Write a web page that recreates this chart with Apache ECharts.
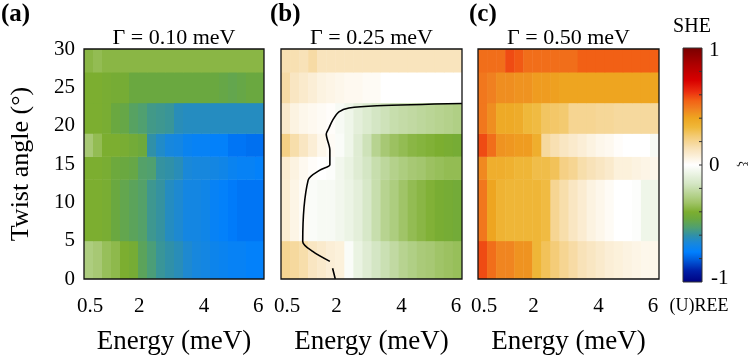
<!DOCTYPE html>
<html>
<head>
<meta charset="utf-8">
<script src="https://cdn.jsdelivr.net/npm/echarts@6/dist/echarts.min.js"></script>
<style>
  html, body { margin: 0; padding: 0; background: #fff; }
  #chart { width: 756px; height: 364px; }
</style>
</head>
<body>
<div id="chart"></div>
<script>
// energy (meV) at the centre of each column, twist-angle row edges (deg)
const ENERGY = [0.45, 0.73, 1.0, 1.28, 1.56, 1.83, 2.1, 2.38, 2.66, 2.94, 3.22, 3.5, 3.77, 4.05, 4.4, 4.72, 5.05, 5.4, 5.72, 6.05];
const ENERGY_TICKS = [0.5, 2, 4, 6];
const ANGLE_EDGES = [0, 5, 13, 16, 19, 23, 27, 30];
const GAMMAS = ['0.10', '0.25', '0.50'];
const PANEL_TAGS = ['(a)', '(b)', '(c)'];
const CBAR_TICKS = [-0.8, -0.6, -0.4, -0.2, 0, 0.2, 0.4, 0.6, 0.8];

// rows from bottom (0-5 deg) to top (27-30 deg)
const SHE_A = [
  [-0.28, -0.3, -0.34, -0.36, -0.4, -0.42, -0.5, -0.54, -0.58, -0.6, -0.62, -0.65, -0.67, -0.68, -0.7, -0.71, -0.72, -0.72, -0.73, -0.73],
  [-0.4, -0.4, -0.41, -0.46, -0.48, -0.5, -0.52, -0.57, -0.59, -0.63, -0.65, -0.68, -0.68, -0.69, -0.72, -0.73, -0.75, -0.76, -0.76, -0.76],
  [-0.4, -0.4, -0.41, -0.45, -0.46, -0.47, -0.52, -0.53, -0.59, -0.6, -0.62, -0.66, -0.67, -0.67, -0.68, -0.69, -0.71, -0.72, -0.72, -0.73],
  [-0.3, -0.35, -0.4, -0.4, -0.41, -0.43, -0.45, -0.6, -0.64, -0.67, -0.68, -0.71, -0.72, -0.72, -0.73, -0.73, -0.76, -0.76, -0.77, -0.77],
  [-0.4, -0.4, -0.41, -0.46, -0.47, -0.51, -0.53, -0.56, -0.57, -0.58, -0.62, -0.63, -0.63, -0.63, -0.63, -0.63, -0.63, -0.63, -0.63, -0.63],
  [-0.4, -0.4, -0.41, -0.42, -0.42, -0.46, -0.46, -0.46, -0.46, -0.46, -0.46, -0.46, -0.46, -0.46, -0.46, -0.47, -0.48, -0.47, -0.46, -0.46],
  [-0.37, -0.35, -0.37, -0.37, -0.37, -0.37, -0.37, -0.37, -0.37, -0.37, -0.37, -0.37, -0.37, -0.37, -0.37, -0.37, -0.37, -0.37, -0.37, -0.37]
];
const SHE_B = [
  [0.2, 0.18, 0.16, 0.12, 0.1, 0.08, 0.07, -0.02, -0.08, -0.12, -0.16, -0.19, -0.22, -0.25, -0.27, -0.29, -0.3, -0.32, -0.33, -0.34],
  [0.09, 0.05, 0.02, -0.02, -0.03, -0.03, -0.05, -0.07, -0.1, -0.15, -0.2, -0.25, -0.28, -0.32, -0.35, -0.37, -0.39, -0.41, -0.42, -0.43],
  [0.09, 0.06, 0.03, 0.01, 0, -0.01, -0.05, -0.08, -0.12, -0.16, -0.2, -0.23, -0.26, -0.28, -0.3, -0.31, -0.33, -0.34, -0.35, -0.35],
  [0.22, 0.16, 0.12, 0.08, 0.04, 0.02, -0.02, -0.06, -0.12, -0.18, -0.25, -0.3, -0.33, -0.35, -0.37, -0.38, -0.39, -0.4, -0.41, -0.42],
  [0.1, 0.06, 0.04, 0.03, 0.02, 0.01, -0.03, -0.06, -0.1, -0.13, -0.16, -0.18, -0.2, -0.21, -0.22, -0.23, -0.24, -0.25, -0.26, -0.27],
  [0.17, 0.12, 0.1, 0.08, 0.06, 0.05, 0.04, 0.03, 0.03, 0.02, 0.02, 0, 0, 0, 0, 0, 0, 0, 0, 0],
  [0.15, 0.15, 0.14, 0.17, 0.13, 0.13, 0.13, 0.13, 0.13, 0.13, 0.13, 0.13, 0.13, 0.13, 0.13, 0.13, 0.13, 0.13, 0.13, 0.13]
];
const SHE_C = [
  [0.58, 0.52, 0.47, 0.47, 0.44, 0.44, 0.33, 0.28, 0.24, 0.2, 0.17, 0.14, 0.12, 0.1, 0.08, 0.07, 0.06, 0.05, 0.04, 0.04],
  [0.5, 0.4, 0.34, 0.33, 0.33, 0.33, 0.33, 0.31, 0.2, 0.16, 0.12, 0.09, 0.06, 0.04, 0.02, 0, 0, -0.01, -0.06, -0.06],
  [0.46, 0.36, 0.36, 0.35, 0.33, 0.33, 0.3, 0.3, 0.28, 0.22, 0.2, 0.16, 0.14, 0.12, 0.1, 0.07, 0.07, 0.06, 0.05, 0.04],
  [0.58, 0.52, 0.44, 0.43, 0.42, 0.42, 0.36, 0.18, 0.15, 0.12, 0.1, 0.08, 0.06, 0.04, 0.03, 0.01, 0, 0, 0, -0.03],
  [0.5, 0.45, 0.38, 0.38, 0.37, 0.32, 0.31, 0.27, 0.26, 0.25, 0.2, 0.2, 0.2, 0.19, 0.19, 0.18, 0.18, 0.18, 0.18, 0.18],
  [0.5, 0.48, 0.45, 0.45, 0.44, 0.44, 0.42, 0.42, 0.41, 0.4, 0.4, 0.4, 0.4, 0.4, 0.4, 0.4, 0.4, 0.4, 0.4, 0.4],
  [0.52, 0.52, 0.52, 0.58, 0.56, 0.52, 0.52, 0.52, 0.52, 0.52, 0.52, 0.55, 0.55, 0.55, 0.55, 0.55, 0.55, 0.55, 0.55, 0.55]
];

// zero contour in panel (b): column position, twist angle
const CONTOUR_X = [20, 10.6, 7.5, 6.4, 5.7, 5.3, 5.0, 5.4, 5.4, 5.4, 4.3, 3.0, 2.4, 3.5, 5.4, null, 5.7, 6.0];
const CONTOUR_Y = [22.9, 22.6, 22.3, 21.8, 20.7, 19.7, 18.9, 16.8, 15.5, 14.9, 14.2, 12.9, 4.9, 3.6, 2.3, null, 1.4, 0.0];

const FONT = '"Liberation Serif", "DejaVu Serif", serif';

// colour map, sampled evenly for visualMap
const STOPS = [
  [-1, '#000080'], [-0.9, '#0020a8'], [-0.8, '#0060e0'], [-0.74, '#0080ff'], [-0.66, '#1a88d8'],
  [-0.6, '#3090a8'], [-0.53, '#50a070'], [-0.46, '#6aa840'], [-0.4, '#7cae30'], [-0.32, '#a0c468'],
  [-0.16, '#d4e6c4'], [0, '#ffffff'], [0.14, '#f8e2b8'], [0.24, '#f4cc78'], [0.32, '#efb83a'],
  [0.4, '#eea520'], [0.48, '#f08020'], [0.55, '#f26015'], [0.62, '#ec3010'], [0.72, '#d80000'],
  [0.85, '#b00000'], [1, '#780000']
];
function hex2rgb(h) { return [1, 3, 5].map(i => parseInt(h.substr(i, 2), 16)); }
function sampleColor(v) {
  for (let i = 0; i < STOPS.length - 1; i++) {
    const a = STOPS[i], b = STOPS[i + 1];
    if (v >= a[0] && v <= b[0]) {
      const t = (v - a[0]) / (b[0] - a[0]);
      const ca = hex2rgb(a[1]), cb = hex2rgb(b[1]);
      const c = ca.map((x, k) => Math.round(x + (cb[k] - x) * t));
      return 'rgb(' + c.join(',') + ')';
    }
  }
  return STOPS[STOPS.length - 1][1];
}
const CMAP = [];
for (let i = 0; i <= 200; i++) CMAP.push(sampleColor(-1 + i * 0.01));

// energy -> column position on the axis
function energyPos(e) {
  for (let i = 0; i < ENERGY.length - 1; i++) {
    if (e >= ENERGY[i] && e <= ENERGY[i + 1]) {
      return i + 0.5 + (e - ENERGY[i]) / (ENERGY[i + 1] - ENERGY[i]);
    }
  }
  return ENERGY.length - 0.5;
}
const TICK_POS = ENERGY_TICKS.map(energyPos);

const GRIDS = [
  { left: 84, top: 49, width: 180, height: 230 },
  { left: 281, top: 49, width: 181, height: 230 },
  { left: 478, top: 49, width: 181, height: 230 }
];
const CBAR = { x: 683, y: 48, w: 19, h: 234 };

function cells(rows) {
  const out = [];
  rows.forEach((row, r) => row.forEach((v, c) => out.push([c, r, v])));
  return out;
}

function renderCell(params, api) {
  const c = api.value(0), r = api.value(1);
  const p0 = api.coord([c, ANGLE_EDGES[r + 1]]);
  const p1 = api.coord([c + 1, ANGLE_EDGES[r]]);
  return {
    type: 'rect',
    shape: { x: p0[0], y: p0[1], width: p1[0] - p0[0] + 0.5, height: p1[1] - p0[1] + 0.5 },
    style: { fill: api.visual('color') }
  };
}

const chart = echarts.init(document.getElementById('chart'));

const xAxes = GRIDS.map((g, i) => ({
  type: 'value', gridIndex: i, min: 0, max: ENERGY.length,
  name: 'Energy (meV)', nameLocation: 'middle', nameGap: 49,
  nameTextStyle: { fontFamily: FONT, fontSize: 27, color: '#000' },
  axisLine: { show: false }, axisTick: { show: false }, splitLine: { show: false },
  axisLabel: {
    customValues: TICK_POS, margin: 17, fontFamily: FONT, fontSize: 21, color: '#000',
    formatter: v => {
      const k = TICK_POS.findIndex(p => Math.abs(p - v) < 1e-6);
      return k >= 0 ? String(ENERGY_TICKS[k]) : '';
    }
  }
}));
const yAxes = GRIDS.map((g, i) => ({
  type: 'value', gridIndex: i, min: 0, max: 30, interval: 5,
  name: i === 0 ? 'Twist angle (°)' : '', nameLocation: 'middle', nameGap: 50,
  nameTextStyle: { fontFamily: FONT, fontSize: 26, color: '#000' },
  axisLine: { show: false }, axisTick: { show: false }, splitLine: { show: false },
  axisLabel: { show: i === 0, margin: 9, fontFamily: FONT, fontSize: 21, color: '#000' }
}));

const series = [SHE_A, SHE_B, SHE_C].map((rows, i) => ({
  type: 'custom', xAxisIndex: i, yAxisIndex: i,
  renderItem: renderCell, encode: { x: 0, y: 1 },
  data: cells(rows), clip: true, silent: true
}));
series.push({
  type: 'line', xAxisIndex: 1, yAxisIndex: 1, symbol: 'none', silent: true,
  smooth: 0.3, connectNulls: false, z: 5,
  lineStyle: { color: '#000', width: 1.6 },
  data: CONTOUR_X.map((x, k) => x === null ? '-' : [x, CONTOUR_Y[k]])
});

const graphics = [];
GRIDS.forEach((g, i) => {
  graphics.push({
    type: 'rect', z: 100, silent: true,
    shape: { x: g.left, y: g.top, width: g.width, height: g.height },
    style: { fill: null, stroke: '#111', lineWidth: 1.3 }
  });
  graphics.push({
    type: 'text', z: 100, x: g.left + g.width / 2, y: 38,
    style: { text: 'Γ = ' + GAMMAS[i] + ' meV', font: '22px ' + FONT, fill: '#000', align: 'center', verticalAlign: 'middle' }
  });
});
[[1, 15], [270, 15], [469, 15]].forEach((p, i) => {
  graphics.push({
    type: 'text', z: 100, x: p[0], y: p[1],
    style: { text: PANEL_TAGS[i], font: 'bold 25px ' + FONT, fill: '#000', verticalAlign: 'middle' }
  });
});

// colour bar: gradient from the same colour map, top = +1
graphics.push({
  type: 'rect', z: 90, silent: true,
  shape: { x: CBAR.x, y: CBAR.y, width: CBAR.w, height: CBAR.h },
  style: {
    fill: new echarts.graphic.LinearGradient(0, 0, 0, 1,
      CMAP.slice().reverse().map((c, k) => ({ offset: k / (CMAP.length - 1), color: c }))),
    stroke: '#333', lineWidth: 1
  }
});
CBAR_TICKS.forEach(v => {
  const y = CBAR.y + (1 - v) / 2 * CBAR.h;
  graphics.push({
    type: 'line', z: 95, silent: true,
    shape: { x1: CBAR.x + CBAR.w - 3, y1: y, x2: CBAR.x + CBAR.w, y2: y },
    style: { stroke: '#333', lineWidth: 1 }
  });
});
[['SHE', 692, 27, 'center', 20], ['1', 709, 50, 'left', 21], ['0', 709, 165, 'left', 21],
 ['-1', 711, 278, 'left', 21], ['(U)REE', 699, 306, 'center', 18]].forEach(t => {
  graphics.push({
    type: 'text', z: 100, x: t[1], y: t[2],
    style: { text: t[0], font: t[4] + 'px ' + FONT, fill: '#000', align: t[3], verticalAlign: 'middle' }
  });
});
graphics.push({
  type: 'text', z: 100, x: 742, y: 164, rotation: -Math.PI / 2,
  style: { text: 'ξ', font: '12px ' + FONT, fill: '#000', align: 'center', verticalAlign: 'middle' }
});

chart.setOption({
  animation: false,
  backgroundColor: '#fff',
  grid: GRIDS,
  xAxis: xAxes,
  yAxis: yAxes,
  visualMap: {
    type: 'continuous', show: false, min: -1, max: 1, dimension: 2, seriesIndex: [0, 1, 2],
    inRange: { color: CMAP }
  },
  series: series,
  graphic: graphics
});
</script>
</body>
</html>
